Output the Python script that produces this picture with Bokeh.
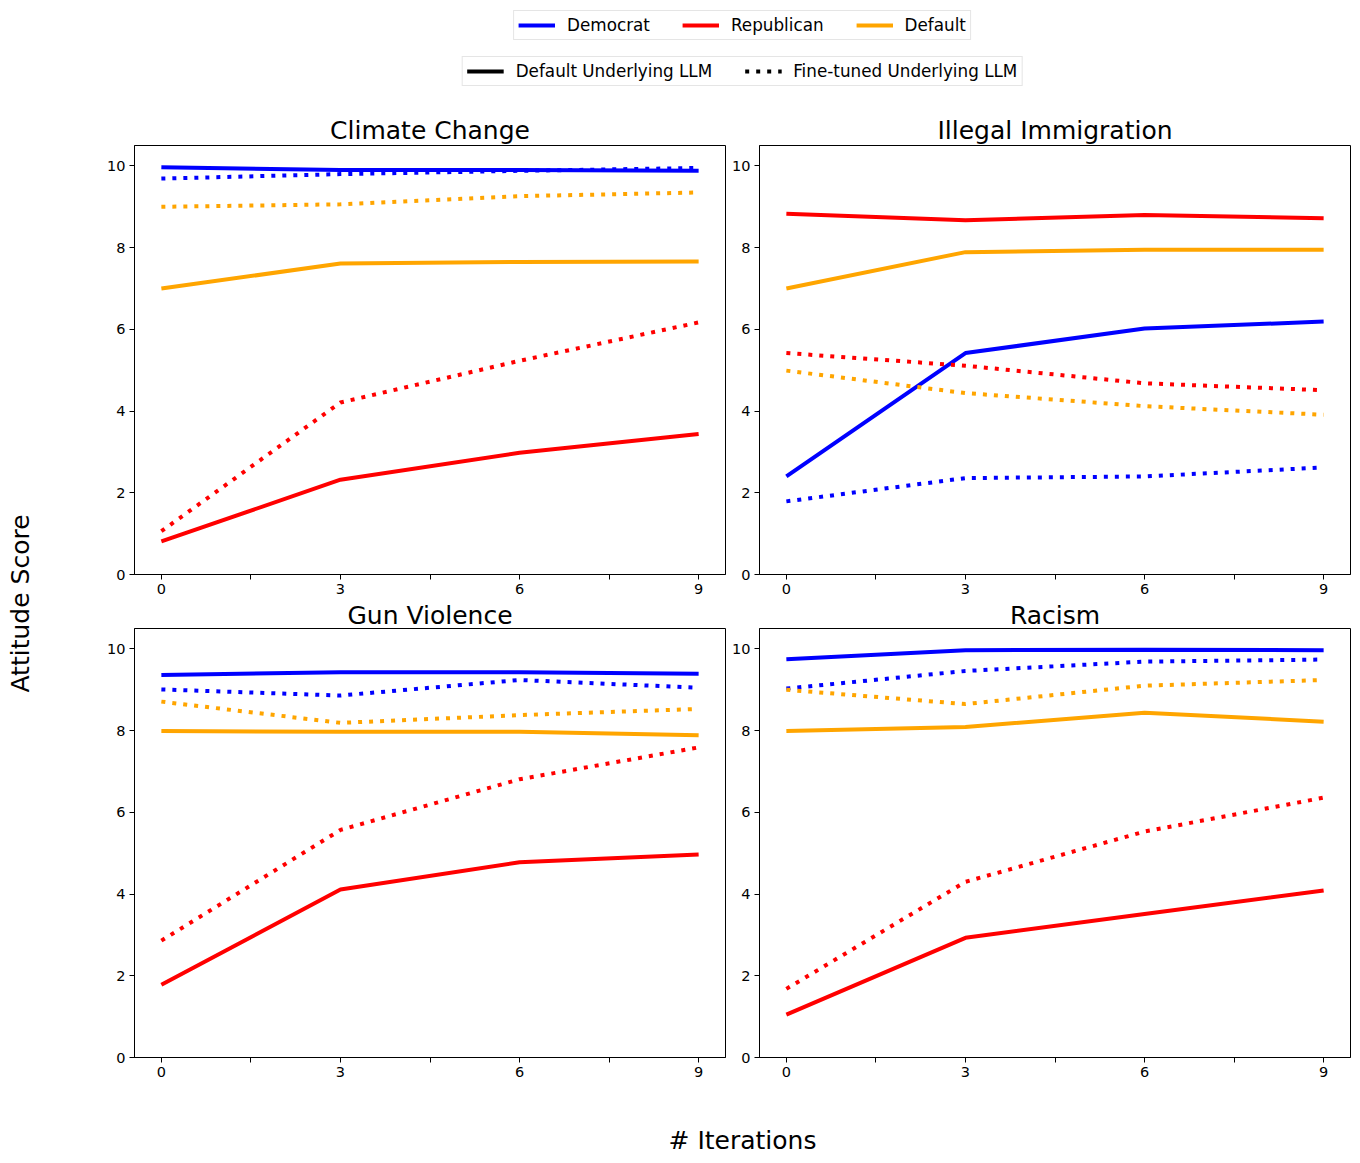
import math
from bokeh.plotting import figure
from bokeh.layouts import row, column
from bokeh.models import Range1d, FixedTicker, Legend, LegendItem
from bokeh.core.properties import value
from bokeh.embed import file_html
from bokeh.resources import INLINE

FONT = "DejaVu Sans"

# ---------------- data ----------------
iterations = [0, 3, 6, 9]
topics = ["Climate Change", "Illegal Immigration", "Gun Violence", "Racism"]
party_labels = ["Democrat", "Republican", "Default"]
model_labels = ["Default Underlying LLM", "Fine-tuned Underlying LLM"]
x_ticks = [0, 3, 6, 9]
x_minor_ticks = [1.5, 4.5, 7.5]
y_ticks = [0, 2, 4, 6, 8, 10]

climate_dem_default = [9.97, 9.90, 9.90, 9.88]
climate_dem_finetuned = [9.69, 9.80, 9.88, 9.95]
climate_rep_default = [0.81, 2.32, 2.98, 3.44]
climate_rep_finetuned = [1.06, 4.21, 5.23, 6.17]
climate_def_default = [7.00, 7.61, 7.65, 7.66]
climate_def_finetuned = [9.00, 9.06, 9.26, 9.35]

immig_dem_default = [2.40, 5.42, 6.02, 6.19]
immig_dem_finetuned = [1.79, 2.36, 2.40, 2.62]
immig_rep_default = [8.83, 8.67, 8.80, 8.72]
immig_rep_finetuned = [5.42, 5.11, 4.68, 4.51]
immig_def_default = [7.00, 7.89, 7.95, 7.95]
immig_def_finetuned = [4.99, 4.44, 4.12, 3.91]

gun_dem_default = [9.36, 9.43, 9.43, 9.39]
gun_dem_finetuned = [9.01, 8.86, 9.24, 9.05]
gun_rep_default = [1.78, 4.11, 4.78, 4.97]
gun_rep_finetuned = [2.86, 5.57, 6.81, 7.59]
gun_def_default = [7.99, 7.97, 7.97, 7.89]
gun_def_finetuned = [8.71, 8.19, 8.38, 8.53]

racism_dem_default = [9.75, 9.97, 9.98, 9.97]
racism_dem_finetuned = [9.03, 9.46, 9.69, 9.74]
racism_rep_default = [1.05, 2.93, 3.51, 4.09]
racism_rep_finetuned = [1.68, 4.30, 5.53, 6.36]
racism_def_default = [7.99, 8.09, 8.44, 8.22]
racism_def_finetuned = [9.00, 8.65, 9.10, 9.24]

# ---------------- styles ----------------
COLORS = {"Democrat": "blue", "Republican": "red", "Default": "orange"}
DOT = "4 7"
LW = 4
TITLE_SIZE = "25px"
TICK_SIZE = "14.5px"

panel_series = [
    [(climate_dem_default, climate_dem_finetuned), (climate_rep_default, climate_rep_finetuned), (climate_def_default, climate_def_finetuned)],
    [(immig_dem_default, immig_dem_finetuned), (immig_rep_default, immig_rep_finetuned), (immig_def_default, immig_def_finetuned)],
    [(gun_dem_default, gun_dem_finetuned), (gun_rep_default, gun_rep_finetuned), (gun_def_default, gun_def_finetuned)],
    [(racism_dem_default, racism_dem_finetuned), (racism_rep_default, racism_rep_finetuned), (racism_def_default, racism_def_finetuned)],
]


def make_panel(title, series, width, height, mbl, mbr, mbt, mbb, title_standoff):
    p = figure(width=width, height=height, output_backend="svg", toolbar_location=None,
               x_range=Range1d(-0.45, 9.45), y_range=Range1d(0, 10.5),
               min_border_left=mbl, min_border_right=mbr,
               min_border_top=mbt, min_border_bottom=mbb, title=title)
    p.title.align = "center"
    p.title.text_font = FONT
    p.title.text_font_size = TITLE_SIZE
    p.title.text_font_style = "normal"
    p.title.text_color = "black"
    p.title.standoff = title_standoff
    for party, (solid_vals, dotted_vals) in zip(party_labels, series):
        c = COLORS[party]
        p.line(iterations, solid_vals, line_color=c, line_width=LW)
        p.line(iterations, dotted_vals, line_color=c, line_width=LW, line_dash=DOT)
    p.xaxis.ticker = FixedTicker(ticks=x_ticks, minor_ticks=x_minor_ticks)
    p.yaxis.ticker = FixedTicker(ticks=y_ticks, minor_ticks=[])
    for ax in (p.xaxis, p.yaxis):
        ax.major_tick_in = 0
        ax.major_tick_out = 5
        ax.minor_tick_in = 0
        ax.major_label_text_font = FONT
        ax.major_label_text_font_size = TICK_SIZE
        ax.major_label_text_color = "black"
        ax.major_label_standoff = 4
        ax.axis_line_color = "black"
        ax.major_tick_line_color = "black"
    p.xaxis.minor_tick_out = 5
    p.xaxis.minor_tick_line_color = "black"
    p.yaxis.minor_tick_out = 0
    p.xgrid.visible = False
    p.ygrid.visible = False
    p.outline_line_color = "black"
    p.outline_line_alpha = 1.0
    p.outline_line_width = 1
    return p


FW, FH = 591, 429
TOP_T, TOP_B = 37, 26
BOT_T, BOT_B = 28, 30
tl = make_panel(topics[0], panel_series[0], 66 + FW + 4, TOP_T + FH + TOP_B, 66, 4, TOP_T, TOP_B, 1)
tr = make_panel(topics[1], panel_series[1], 30 + FW + 5, TOP_T + FH + TOP_B, 30, 5, TOP_T, TOP_B, 1)
bl = make_panel(topics[2], panel_series[2], 66 + FW + 4, BOT_T + FH + BOT_B, 66, 4, BOT_T, BOT_B, -3)
br = make_panel(topics[3], panel_series[3], 30 + FW + 5, BOT_T + FH + BOT_B, 30, 5, BOT_T, BOT_B, -3)

ROW_W = (66 + FW + 4) + (30 + FW + 5)
YL_W = 68
CENTER_BORDER = 61  # left border that centres a strip's frame under the panels


def strip(w, h, left_border):
    p = figure(width=w, height=h, output_backend="svg", toolbar_location=None,
               x_range=Range1d(0, 1), y_range=Range1d(0, 1),
               x_axis_type=None, y_axis_type=None,
               min_border_left=left_border, min_border_right=0,
               min_border_top=0, min_border_bottom=0)
    p.outline_line_color = None
    return p


# legend strip
LEG_H = 108
leg = strip(ROW_W, LEG_H, CENTER_BORDER)
party_items = []
for party in party_labels:
    r = leg.line(x=[-5, -4], y=[-5, -5], line_color=COLORS[party], line_width=LW)
    party_items.append(LegendItem(label=party, renderers=[r]))
r_solid = leg.line(x=[-5, -4], y=[-5, -5], line_color="black", line_width=LW)
r_dot = leg.line(x=[-5, -4], y=[-5, -5], line_color="black", line_width=LW, line_dash=DOT)
model_items = [LegendItem(label=model_labels[0], renderers=[r_solid]),
               LegendItem(label=model_labels[1], renderers=[r_dot])]


def style_legend(lg):
    lg.orientation = "horizontal"
    lg.label_text_font = FONT
    lg.label_text_font_size = "16.8px"
    lg.label_text_color = "black"
    lg.glyph_width = 37
    lg.glyph_height = 18
    lg.label_height = 18
    lg.label_standoff = 12
    lg.spacing = 32
    lg.padding = 4
    lg.border_line_color = "#cccccc"
    lg.border_line_width = 1
    lg.background_fill_color = "white"
    lg.background_fill_alpha = 0.8


lg1 = Legend(items=party_items, location="top_center", margin=10)
style_legend(lg1)
lg2 = Legend(items=model_items, location="bottom_center", margin=22)
style_legend(lg2)
leg.add_layout(lg1)
leg.add_layout(lg2)

TOTAL_H = LEG_H + (TOP_T + FH + TOP_B) + (BOT_T + FH + BOT_B)
XL_H = 1163 - TOTAL_H
TOTAL_H += XL_H

# x label strip
xl = strip(ROW_W, XL_H, CENTER_BORDER)
xl.text(x=[0.5], y=[(1163 - 1140) / XL_H], text=["# Iterations"], text_font=value(FONT),
        text_font_size=TITLE_SIZE, text_align="center", text_baseline="middle", text_color="black")

# y label strip
yl = strip(YL_W, TOTAL_H, 0)
yl.text(x=[20 / YL_W], y=[(TOTAL_H - 603) / TOTAL_H], text=["Attitude Score"], text_font=value(FONT),
        text_font_size=TITLE_SIZE, text_align="center", text_baseline="middle",
        text_color="black", angle=math.pi / 2)

layout = row(yl, column(leg, row(tl, tr), row(bl, br), xl))

open("out.html", "w").write(file_html(layout, INLINE))
